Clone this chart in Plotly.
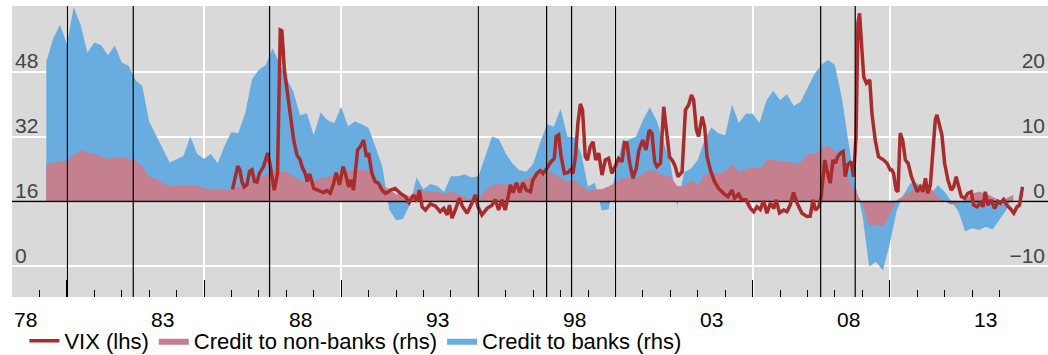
import numpy as np
import plotly.graph_objects as go

# ---------------- data ----------------
# quarterly credit growth contributions (rhs), 1979Q2 .. 2014Q3 (decimal years)
quarters = np.arange(1979.25, 2014.51, 0.25)

credit_banks = [
    21.5, 25.1, 27.2,
    24.3, 29.9, 27.2, 22.9,
    24.5, 24.1, 22.5, 24.0,
    21.4, 20.9, 18.7, 17.8,
    12.3, 10.2, 8.2, 6.0,
    6.5, 7.0, 10.0, 7.3,
    6.6, 7.3, 5.9, 8.6,
    10.7, 10.5, 13.6, 18.8,
    20.3, 21.0, 23.6, 21.3,
    19.0, 17.0, 13.3, 13.6,
    10.2, 13.7, 12.5, 12.1,
    14.6, 11.6, 12.3, 11.9,
    11.3, 8.4, 5.4, -1.2,
    -2.9, -2.7, -0.5, 3.7,
    1.9, 2.7, 2.4, 1.5,
    3.9, 3.9, 4.2, 3.7,
    3.9, 6.9, 10.0, 9.6,
    7.4, 5.8, 4.8, 4.6,
    5.8, 9.0, 11.9, 11.5,
    14.3, 10.0, 9.9, 7.4,
    2.3, 2.9, -1.4, -1.2,
    4.5, 9.2, 9.5, 10.0,
    12.5, 14.5, 12.5, 9.2,
    6.0, -0.8, 4.5, 5.1,
    6.4, 9.5, 11.4, 10.5,
    10.2, 14.95, 12.1, 13.5,
    13.5, 12.1, 15.5, 17.05,
    15.6, 16.5, 14.7, 15.35,
    17.4, 19.6, 21.0, 21.8,
    21.0, 16.0, 9.0, 2.5,
    -2.0, -10.0, -9.3, -10.6,
    -6.5, -1.5, 1.0, 2.8,
    2.8, 2.0, 1.2, 2.5,
    1.5, 0.0, -1.5, -4.6,
    -4.1, -4.4, -3.9, -4.3,
    -2.8, -1.3, 1.2,
]

credit_nonbanks = [
    5.8, 5.9, 6.3,
    6.2, 7.15, 7.9, 7.6,
    7.3, 7.05, 6.5, 6.8,
    6.9, 6.6, 6.3, 5.4,
    3.8, 3.5, 2.8, 2.4,
    2.4, 2.6, 2.5, 2.5,
    2.1, 1.9, 2.0, 1.8,
    1.8, 2.3, 2.7, 2.9,
    3.5, 4.1, 4.7, 4.7,
    4.6, 3.9, 3.3, 3.0,
    3.3, 3.6, 3.9, 4.1,
    4.2, 4.6, 4.8, 4.95,
    4.6, 3.6, 2.5, 1.9,
    1.1, 1.1, 0.8, 1.5,
    1.6, 1.6, 1.5, 1.2,
    1.5, 1.2, 0.7, 0.3,
    0.2, 1.7, 2.5, 2.7,
    2.6, 2.7, 2.9, 3.5,
    3.9, 4.3, 4.7, 4.3,
    3.6, 3.05, 3.3, 2.5,
    1.6, 1.9, 1.9, 2.3,
    2.9, 3.6, 3.7, 3.5,
    4.3, 4.85, 4.6, 4.0,
    3.9, 2.4, 2.3, 3.3,
    2.5, 4.1, 4.4, 4.4,
    4.6, 5.8, 4.6, 4.95,
    5.35, 5.1, 6.3, 6.5,
    6.2, 6.15, 5.9, 6.0,
    7.3, 7.3, 8.2, 8.6,
    7.9, 6.4, 3.3, 1.6,
    -0.3, -3.9, -3.5, -3.9,
    -2.0, 0.2, 0.8, 1.5,
    2.3, 2.8, 2.0, 0.8,
    0.0, -0.5, -0.3, 0.3,
    1.25, 1.5, 1.25, 0.75,
    0.2, 0.5, 1.0,
]

# VIX (lhs), decimal years
vix_t = [
    1986.04, 1986.14, 1986.23, 1986.31, 1986.39, 1986.47, 1986.57, 1986.66, 1986.75, 1986.84,
    1986.93, 1987.02, 1987.17, 1987.32, 1987.42, 1987.56, 1987.68, 1987.78, 1987.84, 1987.93,
    1988.03, 1988.15, 1988.27, 1988.39, 1988.51, 1988.57, 1988.69, 1988.76, 1988.85, 1989.00,
    1989.18, 1989.36, 1989.48, 1989.60, 1989.72, 1989.82, 1989.94, 1990.07, 1990.15, 1990.27,
    1990.36, 1990.45, 1990.60, 1990.70, 1990.82, 1990.92, 1991.00, 1991.12, 1991.24, 1991.36,
    1991.49, 1991.61, 1991.73, 1991.79, 1991.97, 1992.16, 1992.34, 1992.48, 1992.64, 1992.77,
    1992.85, 1992.95, 1993.07, 1993.25, 1993.43, 1993.61, 1993.74, 1993.86, 1993.95, 1994.04,
    1994.16, 1994.31, 1994.43, 1994.59, 1994.77, 1994.89, 1994.99, 1995.13, 1995.32, 1995.50,
    1995.62, 1995.74, 1995.86, 1995.98, 1996.10, 1996.17, 1996.27, 1996.39, 1996.51, 1996.63,
    1996.75, 1996.90, 1996.99, 1997.14, 1997.26, 1997.36, 1997.50, 1997.65, 1997.77, 1997.84,
    1997.93, 1998.01, 1998.14, 1998.26, 1998.35, 1998.45, 1998.54, 1998.63, 1998.72, 1998.80,
    1998.90, 1998.98, 1999.08, 1999.18, 1999.28, 1999.39, 1999.51, 1999.63, 1999.75, 1999.87,
    1999.99, 2000.11, 2000.24, 2000.33, 2000.42, 2000.52, 2000.64, 2000.76, 2000.85, 2000.99,
    2001.11, 2001.23, 2001.33, 2001.43, 2001.51, 2001.64, 2001.76, 2001.85, 2001.97, 2002.10,
    2002.18, 2002.28, 2002.43, 2002.55, 2002.67, 2002.77, 2002.85, 2002.95, 2003.03, 2003.16,
    2003.25, 2003.34, 2003.46, 2003.61, 2003.76, 2003.94, 2004.10, 2004.25, 2004.34, 2004.49,
    2004.61, 2004.76, 2004.92, 2005.04, 2005.16, 2005.28, 2005.40, 2005.52, 2005.65, 2005.77,
    2005.86, 2005.98, 2006.13, 2006.25, 2006.37, 2006.49, 2006.62, 2006.80, 2006.98, 2007.10,
    2007.20, 2007.29, 2007.41, 2007.50, 2007.63, 2007.71, 2007.83, 2007.93, 2008.02, 2008.10,
    2008.20, 2008.30, 2008.38, 2008.46, 2008.59, 2008.68, 2008.77, 2008.84, 2008.90, 2008.96,
    2009.05, 2009.15, 2009.27, 2009.35, 2009.47, 2009.59, 2009.78, 2009.90, 2010.02, 2010.08,
    2010.14, 2010.23, 2010.30, 2010.38, 2010.47, 2010.57, 2010.67, 2010.79, 2010.91, 2011.00,
    2011.11, 2011.21, 2011.30, 2011.39, 2011.48, 2011.56, 2011.66, 2011.72, 2011.81, 2011.90,
    2012.00, 2012.12, 2012.24, 2012.33, 2012.42, 2012.51, 2012.61, 2012.73, 2012.85, 2012.97,
    2013.06, 2013.18, 2013.30, 2013.40, 2013.48, 2013.58, 2013.70, 2013.82, 2013.95, 2014.03,
    2014.15, 2014.27, 2014.39, 2014.52, 2014.64, 2014.73, 2014.84,
]
vix = [
    19.0, 22.1, 24.7, 23.7, 20.7, 19.6, 20.2, 23.4, 23.8, 20.9,
    20.8, 22.9, 24.6, 27.9, 24.6, 18.8, 22.9, 58.2, 58.0, 48.4,
    43.4, 37.7, 31.1, 27.4, 26.2, 24.6, 22.9, 20.9, 22.8, 19.2,
    18.8, 18.2, 18.7, 18.0, 20.3, 23.1, 20.1, 24.6, 22.9, 19.6,
    21.3, 18.8, 28.7, 29.5, 31.1, 27.0, 27.9, 22.9, 20.9, 20.5,
    18.8, 18.0, 18.4, 18.8, 19.2, 18.0, 17.2, 15.7, 17.6, 16.0,
    18.8, 14.7, 13.9, 15.4, 14.9, 13.5, 14.3, 12.7, 15.1, 11.9,
    13.9, 16.8, 14.7, 13.1, 15.6, 17.6, 14.7, 12.7, 14.3, 15.1,
    16.5, 13.9, 16.4, 13.9, 17.5, 20.1, 18.2, 20.6, 18.2, 20.6,
    18.8, 18.4, 21.3, 22.9, 23.6, 22.9, 24.2, 25.8, 26.6, 32.0,
    32.4, 27.4, 22.9, 23.1, 23.75, 22.9, 27.0, 35.2, 40.0, 38.5,
    27.0, 26.2, 29.5, 30.7, 26.2, 27.9, 22.5, 26.2, 26.6, 22.9,
    24.6, 26.6, 25.8, 30.5, 30.3, 25.4, 21.7, 24.2, 28.5, 31.1,
    28.7, 33.6, 32.8, 25.8, 24.6, 25.4, 39.3, 33.6, 27.0, 25.8,
    24.6, 22.1, 23.3, 38.5, 39.8, 42.2, 41.0, 33.6, 32.0, 36.9,
    34.4, 27.0, 23.75, 20.9, 19.2, 18.0, 17.2, 18.8, 16.8, 17.8,
    16.4, 16.4, 14.3, 13.5, 14.7, 14.0, 16.2, 13.1, 15.6, 14.3,
    16.4, 13.2, 13.9, 13.5, 15.1, 18.2, 15.6, 13.1, 12.3, 12.4,
    16.4, 13.9, 14.7, 17.2, 26.2, 23.75, 20.5, 26.2, 25.4, 27.0,
    27.9, 28.3, 22.1, 25.0, 25.8, 22.1, 32.0, 59.9, 62.3, 55.8,
    46.7, 45.1, 45.9, 37.7, 31.1, 27.0, 26.2, 25.4, 23.75, 23.75,
    22.9, 18.8, 18.4, 32.8, 31.1, 26.2, 25.4, 22.1, 19.6, 18.4,
    19.6, 18.4, 21.7, 18.0, 20.1, 27.0, 36.1, 37.3, 34.4, 32.4,
    25.4, 21.3, 18.8, 19.6, 22.1, 19.6, 17.2, 16.8, 18.0, 18.4,
    15.1, 14.7, 15.6, 14.7, 18.4, 15.1, 16.4, 14.3, 16.0, 15.6,
    16.5, 15.1, 14.3, 13.1, 14.7, 15.1, 19.6,
]

# vertical event markers (decimal years)
event_years = [1980.02, 1982.42, 1987.39, 1995.0, 1997.49, 1998.40, 2000.0, 2007.48, 2008.74]

# x-axis labels (centred in the labelled year)
label_years = [1978, 1983, 1988, 1993, 1998, 2003, 2008, 2013]
label_text = ["78", "83", "88", "93", "98", "03", "08", "13"]
grid_years = [1980, 1985, 1990, 1995, 2000, 2005, 2010, 2015]

lhs_ticks = [0, 16, 32, 48]
rhs_ticks = [-10, 0, 10, 20, 30]
rhs_text = ["\u221210", "0", "10", "20", ""]

# ---------------- style ----------------
BLUE = "#69ADE0"
PINK = "#C4808E"
RED = "#A82C2C"
BG = "#D9D9D9"
FONT = "Liberation Sans"

W, H = 1048, 355
ML, MR, MT, MB = 12, 0, 6, 58
X_MIN = 1978.0
X_MAX = X_MIN + (W - ML - MR) / 27.43
RHS_RANGE = [-14.7, 30.1]
LHS_RANGE = [-7.5, 64.1]

fig = go.Figure()

fig.add_trace(go.Scatter(
    x=quarters, y=credit_banks, name="Credit to banks (rhs)", yaxis="y",
    mode="lines", fill="tozeroy", fillcolor=BLUE, line=dict(width=0, color=BLUE),
    legendrank=3, hoverinfo="skip"))
fig.add_trace(go.Scatter(
    x=quarters, y=credit_nonbanks, name="Credit to non-banks (rhs)", yaxis="y",
    mode="lines", fill="tozeroy", fillcolor=PINK, line=dict(width=0, color=PINK),
    legendrank=2, hoverinfo="skip"))
# zero line of rhs
fig.add_trace(go.Scatter(
    x=[X_MIN, X_MAX], y=[0, 0], yaxis="y", mode="lines",
    line=dict(color="black", width=1.5), showlegend=False, hoverinfo="skip"))
fig.add_trace(go.Scatter(
    x=vix_t, y=vix, name="VIX (lhs)", yaxis="y2", mode="lines",
    line=dict(color=RED, width=3.5), legendrank=1))

shapes = []
for ev in event_years:
    shapes.append(dict(type="line", xref="x", yref="paper", x0=ev, x1=ev, y0=0, y1=1,
                       line=dict(color="black", width=1.2), layer="above"))

annotations = []
for yr, txt in zip(label_years, label_text):
    annotations.append(dict(x=yr + 0.5, y=0, xref="x", yref="paper", text=txt,
                            showarrow=False, yanchor="top", yshift=-9,
                            font=dict(family=FONT, size=21, color="black")))

fig.update_layout(
    width=W, height=H,
    margin=dict(l=ML, r=MR, t=MT, b=MB, autoexpand=False),
    paper_bgcolor="white", plot_bgcolor=BG,
    font=dict(family=FONT, size=21, color="black"),
    showlegend=True,
    legend=dict(orientation="h", x=0.012, y=-0.079, xanchor="left", yanchor="top",
                font=dict(family=FONT, size=22), bgcolor="rgba(0,0,0,0)",
                itemwidth=30, tracegroupgap=0),
    xaxis=dict(range=[X_MIN, X_MAX], tickvals=grid_years, showticklabels=False,
               ticks="inside", ticklen=17, tickwidth=1.3, tickcolor="black",
               showgrid=True, gridcolor="white", gridwidth=1.5, zeroline=False,
               showline=False,
               minor=dict(tick0=1978, dtick=1, ticks="inside", ticklen=7,
                          tickwidth=1.3, tickcolor="black", showgrid=False)),
    yaxis=dict(range=RHS_RANGE, side="right", tickvals=rhs_ticks, ticktext=rhs_text,
               ticklabelposition="inside top", ticklabelshift=4, ticks="", showgrid=True,
               gridcolor="white", gridwidth=1.5, zeroline=False, showline=False,
               tickfont=dict(size=21)),
    yaxis2=dict(range=LHS_RANGE, side="left", overlaying="y", tickvals=lhs_ticks,
                ticklabelposition="inside top", ticklabelshift=4, ticks="", showgrid=False,
                zeroline=False, showline=False, tickfont=dict(size=21)),
    shapes=shapes,
    annotations=annotations,
)

fig.write_html("out.html")
